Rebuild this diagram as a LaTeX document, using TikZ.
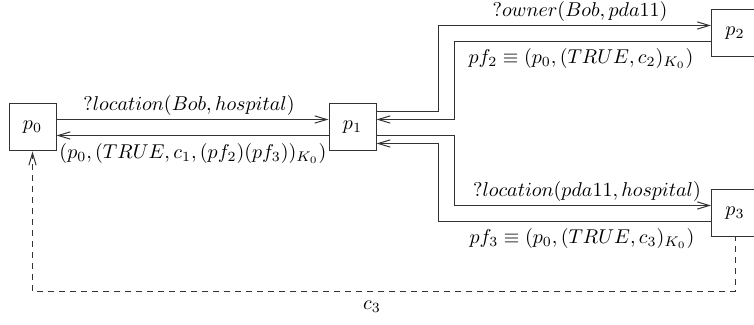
\documentclass[tikz,border=0pt]{standalone}
\usetikzlibrary{arrows.meta}
\begin{document}
\begin{tikzpicture}[x=0.5pt,y=-0.5pt,
  box/.style={draw=black!80,line width=0.5pt,minimum width=23.5pt,minimum height=23.5pt,inner sep=0pt},
  conn/.style={draw=black!80,line width=0.5pt,-{Straight Barb[length=6pt,width=3.6pt]}},
  dconn/.style={conn,dash pattern=on 3pt off 2.5pt,dash phase=1pt},
  lbl/.style={inner sep=0pt}]
\useasboundingbox (0,0) rectangle (754,325);
\clip (0,0) rectangle (754,325);
\node[box] (p0) at (32.5,127.5) {$p_0$};
\node[box] (p1) at (352.5,127.5) {$p_1$};
\node[box] (p2) at (735,33.5) {$p_2$};
\node[box] (p3) at (735,213.5) {$p_3$};
% p0 <-> p1
\draw[conn] ([yshift=4pt]p0.east) -- ([yshift=4pt]p1.west);
\draw[conn] ([yshift=-4pt]p1.west) -- ([yshift=-4pt]p0.east);
% p1 <-> p2
\draw[conn] ([yshift=8pt]p1.east) -- ++(31pt,0) |- ([yshift=4pt]p2.west);
\draw[conn] ([yshift=-4pt]p2.west) -| ([xshift=39pt,yshift=4pt]p1.east) -- ([yshift=4pt]p1.east);
% p1 <-> p3
\draw[conn] ([yshift=-4pt]p1.east) -- ++(39pt,0) |- ([yshift=4pt]p3.west);
\draw[conn] ([yshift=-4pt]p3.west) -| ([xshift=31pt,yshift=-8pt]p1.east) -- ([yshift=-8pt]p1.east);
% dashed p3 -> p0
\draw[dconn] (p3.south) -- ++(0,-27pt) -| (p0.south);
% labels
\node[lbl,anchor=south] (l1) at (189,116) {$?location(Bob,hospital)$};
\node[lbl,anchor=north] (l2) at (193,143) {$(p_0,(TRUE,c_1,(pf_2)(pf_3))_{K_0})$};
\node[lbl,anchor=south] (l3) at (580,22) {$?owner(Bob,pda11)$};
\node[lbl,anchor=north] (l4) at (581,48) {$pf_2\equiv(p_0,(TRUE,c_2)_{K_0})$};
\node[lbl,anchor=south] (l5) at (587,202) {$?location(pda11,hospital)$};
\node[lbl,anchor=north] (l6) at (582,228) {$pf_3\equiv(p_0,(TRUE,c_3)_{K_0})$};
\node[lbl] (l7) at (372,307) {$c_3$};
\end{tikzpicture}
\end{document}
